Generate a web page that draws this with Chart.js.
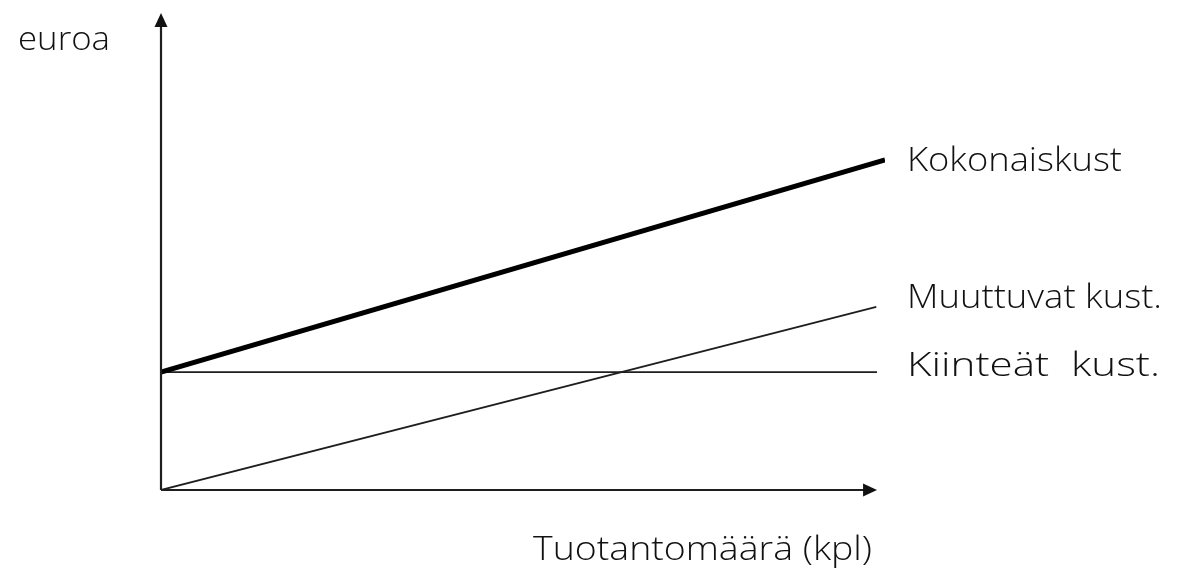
<!DOCTYPE html>
<html lang="fi">
<head>
<meta charset="UTF-8">
<title>Kustannukset</title>
<script src="https://cdn.jsdelivr.net/npm/chart.js@4.4.0/dist/chart.umd.min.js"></script>
<style>
  html, body { margin: 0; padding: 0; background: #ffffff; }
  #wrap { width: 1179px; height: 570px; position: relative; }
</style>
</head>
<body>
<div id="wrap"><canvas id="chart"></canvas></div>
<script>
// x and y both on a 0..100 scale
var kokonaisX = [0, 100];
var kokonaisY = [24.7, 69.2];
var muuttuvatX = [0, 98.8];
var muuttuvatY = [0, 38.4];
var kiinteatX = [0, 98.9];
var kiinteatY = [24.7, 24.7];

var seriesNames = ['Kokonaiskust', 'Muuttuvat kust.', 'Kiinteät  kust.'];
var yTitle = 'euroa';
var xTitle = 'Tuotantomäärä (kpl)';
var xAxisEnd = 98.9;
var yAxisEnd = 100;

function pts(xs, ys) {
  return xs.map(function (x, i) { return { x: x, y: ys[i] }; });
}

var FONT = '300 33px "Open Sans", Lato, sans-serif';

// same font size everywhere, glyphs stretched sideways to the wanted width
function fitText(ctx, text, x, y, width) {
  ctx.font = FONT;
  var w = ctx.measureText(text).width;
  ctx.save();
  ctx.translate(x, y);
  ctx.scale(width / w, 1);
  ctx.fillText(text, 0, 0);
  ctx.restore();
}

var axesPlugin = {
  id: 'axesArrows',
  afterDatasetsDraw: function (chart) {
    var ctx = chart.ctx;
    var xs = chart.scales.x, ys = chart.scales.y;
    var x0 = xs.getPixelForValue(0), y0 = ys.getPixelForValue(0);
    var xe = xs.getPixelForValue(xAxisEnd), ye = ys.getPixelForValue(yAxisEnd);
    ctx.save();
    ctx.strokeStyle = '#1e1e1e';
    ctx.fillStyle = '#111';
    ctx.lineWidth = 2.2;
    ctx.beginPath();
    ctx.moveTo(x0, y0);
    ctx.lineTo(xe - 10, y0);
    ctx.moveTo(x0, y0);
    ctx.lineTo(x0, ye + 10);
    ctx.stroke();
    // arrow heads
    ctx.beginPath();
    ctx.moveTo(xe, y0);
    ctx.lineTo(xe - 14, y0 - 6.5);
    ctx.lineTo(xe - 14, y0 + 6.5);
    ctx.closePath();
    ctx.fill();
    ctx.beginPath();
    ctx.moveTo(x0, ye);
    ctx.lineTo(x0 - 6.5, ye + 14);
    ctx.lineTo(x0 + 6.5, ye + 14);
    ctx.closePath();
    ctx.fill();

    // texts
    ctx.fillStyle = '#111';
    ctx.textBaseline = 'alphabetic';
    ctx.textAlign = 'left';
    fitText(ctx, yTitle, 18, 50, 92);
    fitText(ctx, xTitle, 533, 560, 339);
    var ends = [
      [kokonaisY, 11, 215],
      [muuttuvatY, 1, 255],
      [kiinteatY, 4, 253]
    ];
    ends.forEach(function (e, i) {
      var yy = ys.getPixelForValue(e[0][e[0].length - 1]);
      fitText(ctx, seriesNames[i], 907, yy + e[1], e[2]);
    });
    ctx.restore();
  }
};

new Chart(document.getElementById('chart'), {
  type: 'scatter',
  data: {
    datasets: [
      { label: seriesNames[0], data: pts(kokonaisX, kokonaisY), showLine: true,
        borderColor: '#000', borderWidth: 5, pointRadius: 0, borderCapStyle: 'butt' },
      { label: seriesNames[1], data: pts(muuttuvatX, muuttuvatY), showLine: true,
        borderColor: '#1e1e1e', borderWidth: 1.8, pointRadius: 0 },
      { label: seriesNames[2], data: pts(kiinteatX, kiinteatY), showLine: true,
        borderColor: '#1e1e1e', borderWidth: 1.8, pointRadius: 0 }
    ]
  },
  options: {
    responsive: true,
    maintainAspectRatio: false,
    animation: false,
    layout: { padding: { left: 161, right: 294, top: 13, bottom: 80 } },
    plugins: { legend: { display: false }, tooltip: { enabled: false } },
    scales: {
      x: { type: 'linear', min: 0, max: 100, display: false },
      y: { type: 'linear', min: 0, max: 100, display: false }
    }
  },
  plugins: [axesPlugin]
});
</script>
</body>
</html>
